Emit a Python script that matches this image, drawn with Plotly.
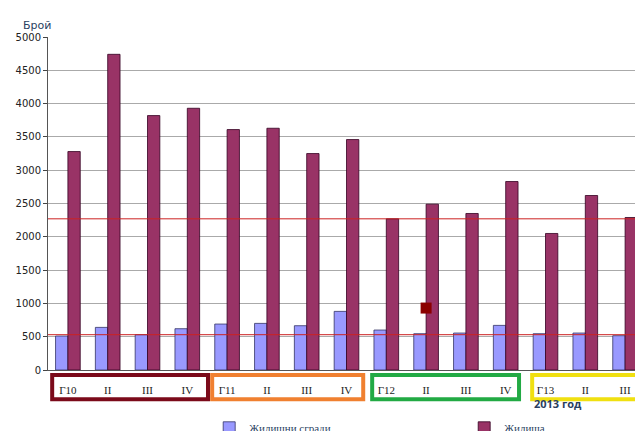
import plotly.graph_objects as go

categories = ["Г10", "II", "III", "IV", "Г11", "II ", "III ", "IV ", "Г12", "II  ", "III  ", "IV  ", "Г13", "II   ", "III   "]
tick_labels = ["Г10", "II", "III", "IV", "Г11", "II", "III", "IV", "Г12", "II", "III", "IV", "Г13", "II", "III"]
buildings = [510, 640, 530, 620, 690, 700, 665, 880, 600, 545, 555, 670, 545, 555, 515]
dwellings = [3280, 4740, 3820, 3930, 3610, 3630, 3250, 3460, 2270, 2490, 2350, 2830, 2050, 2620, 2290]
ref_lines = [2270, 530]
marker_point = ("II  ", 930)

fig = go.Figure()
fig.add_bar(x=categories, y=buildings, name="Жилищни сгради",
            marker=dict(color="#9999ff", line=dict(color="#333366", width=0.8)))
fig.add_bar(x=categories, y=dwellings, name="Жилища",
            marker=dict(color="#993366", line=dict(color="#330022", width=0.8)))
fig.add_scatter(x=[marker_point[0]], y=[marker_point[1]], mode="markers",
                marker=dict(symbol="square", size=11, color="#8b0000"),
                showlegend=False)
for v in ref_lines:
    fig.add_shape(type="line", xref="paper", x0=0, x1=1, y0=v, y1=v, layer="above",
                  line=dict(color="#cc2222", width=1))

boxes = [(0.007, 0.268, "#7b0a1a"), (0.275, 0.528, "#f08030"),
         (0.543, 0.789, "#22aa44"), (0.811, 0.995, "#f0e010")]
for x0, x1, c in boxes:
    fig.add_shape(type="rect", xref="paper", yref="paper", x0=x0, x1=x1,
                  y0=-0.088, y1=-0.015, line=dict(color=c, width=4))

fig.add_annotation(text="Брой", xref="paper", yref="paper", x=-0.045, y=1.06,
                   showarrow=False, xanchor="left", font=dict(size=11, family="DejaVu Sans"))
fig.add_annotation(text="<b>2013 год</b>", xref="paper", yref="paper", x=0.81, y=-0.13,
                   showarrow=False, xanchor="left", font=dict(size=11, family="Open Sans"))

fig.update_layout(
    width=643, height=431, margin=dict(l=40, r=6, t=29, b=69, autoexpand=False),
    plot_bgcolor="white", paper_bgcolor="white",
    barmode="group", bargap=0.38, bargroupgap=0.0,
    xaxis=dict(tickvals=categories, ticktext=tick_labels, showline=True, linecolor="#555",
               ticks="", ticklabelstandoff=10,
               tickfont=dict(family="Liberation Serif", size=11, color="#222"),
               showgrid=False),
    yaxis=dict(range=[0, 5000], dtick=500, showgrid=True, gridcolor="#aaaaaa",
               showline=True, linecolor="#555", ticks="outside", ticklen=4,
               tickfont=dict(family="DejaVu Sans", size=10, color="#222")),
    legend=dict(orientation="h", x=0.27, xanchor="left", y=-0.13, yanchor="top",
                font=dict(family="Liberation Serif", size=11),
                entrywidth=210, itemwidth=30),
    font=dict(family="DejaVu Sans"),
)
fig.write_html("out.html")
